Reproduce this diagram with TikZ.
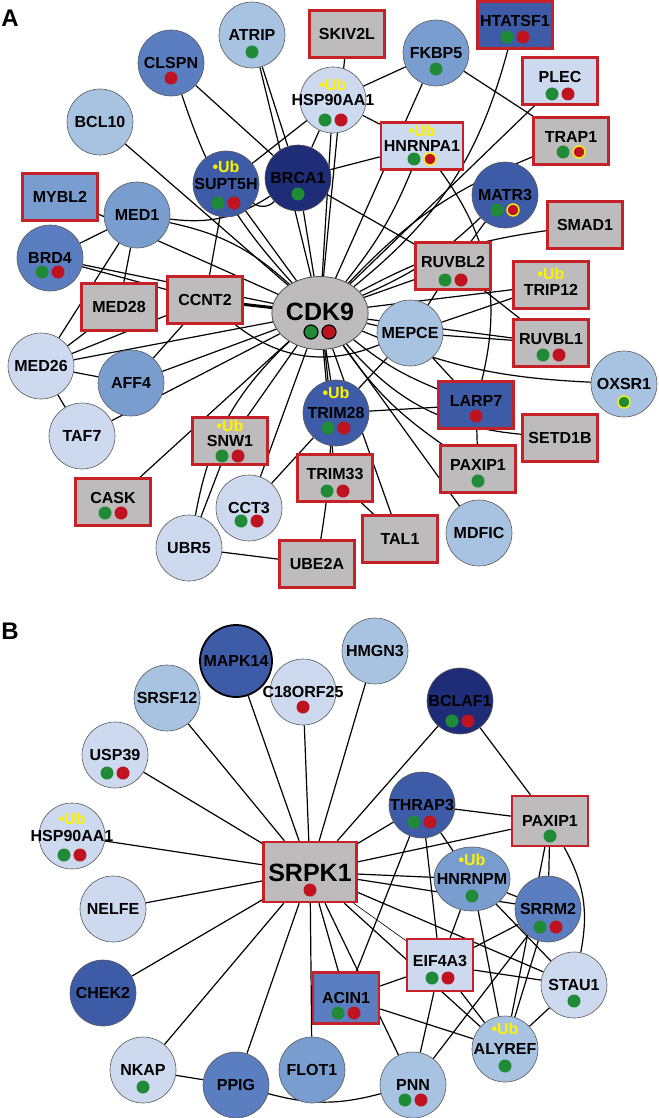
\documentclass[tikz,border=0pt]{standalone}
\usepackage{fontspec}
\setmainfont{Liberation Sans}
\usetikzlibrary{shapes.geometric,backgrounds}

\definecolor{cPale}{HTML}{CCD9EE}
\definecolor{cLight}{HTML}{A8C2E1}
\definecolor{cMid}{HTML}{7A9DD0}
\definecolor{cDeep}{HTML}{5A7EBF}
\definecolor{cDark}{HTML}{3D5BA7}
\definecolor{cNavy}{HTML}{1F2D78}
\definecolor{cGrey}{HTML}{BDBBBC}
\definecolor{cFrame}{HTML}{C62129}
\definecolor{cGreen}{HTML}{1F8B37}
\definecolor{cRed}{HTML}{BF131F}
\definecolor{cUb}{HTML}{FFF200}

\tikzset{
  prot/.style={circle,draw=black!65,line width=.6pt,minimum size=66pt,inner sep=0pt,
    font=\fontsize{16}{18}\selectfont\bfseries,text height=11.5pt,text depth=0pt},
  kin/.style={rectangle,draw=cFrame,line width=2.4pt,minimum width=75pt,minimum height=47pt,
    inner sep=0pt,font=\fontsize{16}{18}\selectfont\bfseries,text height=11.5pt,text depth=0pt},
  raised/.style={text depth=8pt},
  ubmark/.style={text=cUb,inner sep=0pt,font=\fontsize{16}{18}\selectfont\bfseries},
  panel/.style={inner sep=0pt,font=\fontsize{24}{26}\selectfont\bfseries},
  link/.style={every edge/.append style={line width=1.2pt}}
}
% dots: green / red, optional yellow ring
\newcommand\dotg[3]{\fill[cGreen] ([shift={(#2,#3)}]#1.center) circle (6.5);}
\newcommand\dotr[3]{\fill[cRed] ([shift={(#2,#3)}]#1.center) circle (6.5);}
\newcommand\dotgy[3]{\filldraw[fill=cGreen,draw=cUb,line width=1.4pt] ([shift={(#2,#3)}]#1.center) circle (6);}
\newcommand\dotry[3]{\filldraw[fill=cRed,draw=cUb,line width=1.4pt] ([shift={(#2,#3)}]#1.center) circle (6);}
\newcommand\dotpair[2]{\dotg{#1}{-8}{#2}\dotr{#1}{8}{#2}}
\newcommand\ubtag[2]{\node[ubmark] (#1-ub) at ([shift={(0,#2)}]#1.center) {•Ub};}
\newcommand\fitin[1]{\makebox[0pt]{#1}}

\begin{document}
\begin{tikzpicture}[x=1pt,y=-1pt]
\useasboundingbox (0,0) rectangle (658,1118);

% ---- panel A
\node[panel] (labA) at (10,18) {A};
\node[prot,fill=cLight] (atrip) at (252,35) {ATRIP};
\node[prot,fill=cDeep] (clspn) at (171,63) {CLSPN};
\node[prot,fill=cLight] (bcl10) at (100,122) {BCL10};
\node[prot,fill=cPale] (hspA) at (333,100) {\fitin{HSP90AA1}};
\node[prot,fill=cDark] (supt) at (226,184) {SUPT5H};
\node[prot,fill=cNavy] (brca) at (298,178) {BRCA1};
\node[prot,fill=cMid] (med1) at (137,215) {MED1};
\node[prot,fill=cDeep] (brd4) at (50,258) {BRD4};
\node[kin,fill=cMid] (mybl) at (60,197) {MYBL2};
\node[kin,fill=cGrey] (skiv) at (347,34) {SKIV2L};
\node[prot,fill=cMid] (fkbp) at (436,53) {FKBP5};
\node[kin,fill=cDark,raised] (htat) at (515,25) {HTATSF1};
\node[kin,fill=cPale,raised] (plec) at (560,81) {PLEC};
\node[kin,fill=cPale,minimum width=82pt] (hnrA) at (422,146) {HNRNPA1};
\node[kin,fill=cGrey,raised] (trap) at (571,141) {TRAP1};
\node[prot,fill=cDark] (matr) at (505,195) {MATR3};
\node[kin,fill=cGrey] (smad) at (585,225) {SMAD1};
\node[kin,fill=cGrey,raised] (ruv2) at (453,266) {RUVBL2};
\node[kin,fill=cGrey,text height=20pt] (trip) at (551,285) {TRIP12};
\node[kin,fill=cGrey,raised] (ruv1) at (551,343) {RUVBL1};
\node[prot,fill=cLight] (mepce) at (410,333) {MEPCE};
\node[prot,fill=cLight] (oxsr) at (624,384) {OXSR1};
\node[kin,fill=cDark,raised] (larp) at (476,405) {LARP7};
\node[kin,fill=cGrey] (setd) at (560,438) {SETD1B};
\node[kin,fill=cGrey,raised] (paxA) at (478,469) {PAXIP1};
\node[prot,fill=cLight] (mdfic) at (479,533) {MDFIC};
\node[kin,fill=cGrey] (tal1) at (400,539) {TAL1};
\node[kin,fill=cGrey,raised] (trim33) at (335,478) {TRIM33};
\node[kin,fill=cGrey] (ube2a) at (317,564) {UBE2A};
\node[prot,fill=cDark] (trim28) at (336,413) {TRIM28};
\node[prot,fill=cPale] (cct3) at (249,508) {CCT3};
\node[prot,fill=cPale] (ubr5) at (189,548) {UBR5};
\node[kin,fill=cGrey] (snw1) at (230,441) {SNW1};
\node[kin,fill=cGrey,raised] (cask) at (113,502) {CASK};
\node[prot,fill=cPale] (taf7) at (82,436) {TAF7};
\node[prot,fill=cPale] (med26) at (41,366) {MED26};
\node[prot,fill=cMid] (aff4) at (131,383) {AFF4};
\node[kin,fill=cGrey] (med28) at (119,307) {MED28};
\node[kin,fill=cGrey] (ccnt2) at (205,300) {CCNT2};
\node[ellipse,draw=black!70,line width=.8pt,fill=cGrey,minimum width=93pt,minimum height=73pt,
  inner sep=0pt,font=\fontsize{25}{28}\selectfont\bfseries,text height=18pt,text depth=4pt] (cdk9) at (320,313) {CDK9};

% ---- panel B
\node[panel] (labB) at (10,631) {B};
\node[prot,fill=cDark,draw=black,line width=1.8pt,minimum size=72pt] (mapk14) at (236,661) {MAPK14};
\node[prot,fill=cPale] (c18) at (303,692) {\fitin{C18ORF25}};
\node[prot,fill=cLight] (srsf12) at (167,698) {SRSF12};
\node[prot,fill=cPale] (usp39) at (115,755) {USP39};
\node[prot,fill=cPale] (hspB) at (72,836) {\fitin{HSP90AA1}};
\node[prot,fill=cLight] (hmgn3) at (375,651) {HMGN3};
\node[prot,fill=cNavy] (bclaf) at (460,701) {BCLAF1};
\node[prot,fill=cDark] (thrap) at (422,805) {THRAP3};
\node[kin,fill=cGrey,minimum width=76pt,minimum height=50pt] (paxB) at (550,821) {PAXIP1};
\node[kin,fill=cGrey,minimum width=93pt,minimum height=60pt,
  font=\fontsize{25}{28}\selectfont\bfseries,text height=18pt] (srpk) at (310,872) {SRPK1};
\node[prot,fill=cPale] (nelfe) at (113,909) {NELFE};
\node[prot,fill=cDark] (chek2) at (103,993) {CHEK2};
\node[prot,fill=cPale] (nkap) at (143,1070) {NKAP};
\node[prot,fill=cDeep] (ppig) at (236,1085) {PPIG};
\node[prot,fill=cMid] (flot1) at (312,1070) {FLOT1};
\node[prot,fill=cLight] (pnn) at (413,1085) {PNN};
\node[kin,fill=cDeep,minimum width=66pt,minimum height=51pt] (acin1) at (346,998) {ACIN1};
\node[kin,fill=cPale,raised,minimum width=66pt,minimum height=52pt] (eif4a3) at (440,965) {EIF4A3};
\node[prot,ellipse,fill=cMid,minimum width=76pt,minimum height=64pt] (hnrm) at (472,879) {\fitin{HNRNPM}};
\node[prot,fill=cDeep] (srrm2) at (548,909) {SRRM2};
\node[prot,fill=cPale] (stau1) at (574,985) {STAU1};
\node[prot,fill=cLight] (alyref) at (505,1049) {ALYREF};

% ---- links
\begin{scope}[on background layer,link]
\path (cdk9) edge (atrip) edge[bend left=12] (clspn) edge (bcl10) edge (hspA) edge (supt) edge (brca)
  edge[bend right=15] (med1) edge (brd4) edge (mybl) edge (skiv) edge (fkbp) edge[bend right=18] (htat)
  edge (plec) edge[bend right=8] (hnrA) edge[bend left=12] (trap) edge[bend right=10] (matr)
  edge[bend left=10] (smad) edge (ruv2) edge (trip) edge (ruv1) edge (mepce) edge[bend right=10] (oxsr)
  edge[bend right=8] (larp) edge[bend right=22] (setd) edge[bend right=10] (paxA) edge (trim28)
  edge (mdfic) edge (tal1) edge (trim33) edge[bend left=8] (ube2a) edge (cct3) edge (snw1)
  edge[bend right=18] (ubr5) edge (cask) edge (taf7) edge (aff4) edge (med26);
\draw[line width=3pt] (cdk9) -- (ccnt2);
\path (atrip) edge (brca)
  (clspn) edge (brca)
  (hspA) edge (supt) edge (brca) edge (hnrA) edge (fkbp)
  (fkbp) edge (trap)
  (supt) edge[bend right=40] (brca) edge (ccnt2)
  (med1) edge (brd4) edge (med28) edge (med26) edge[bend right=20] (brca)
  (brd4) edge (ccnt2)
  (med26) edge (med28) edge (ccnt2) edge (aff4) edge (taf7)
  (aff4) edge (ccnt2)
  (snw1) edge (ubr5)
  (ubr5) edge (ube2a)
  (cct3) edge (trim28)
  (trim33) edge (tal1)
  (trim28) edge (larp) edge (mepce)
  (larp) edge (paxA) edge (mepce) edge[bend right=25] (hnrA)
  (mepce) edge (ruv1) edge (ruv2) edge (trip)
  (ruv2) edge (ruv1) edge (matr)
  (brca) edge (ruv2) edge (hnrA)
  (ccnt2) edge[bend right=30] (mepce);
\path (srpk) edge (hspB) edge (usp39) edge (srsf12) edge (mapk14) edge (c18) edge (hmgn3)
  edge (bclaf) edge (thrap) edge (paxB) edge (hnrm) edge (srrm2) edge (stau1)
  edge[line width=.6pt] (eif4a3) edge (alyref) edge (pnn) edge (acin1) edge (flot1)
  edge (ppig) edge (nkap) edge (chek2) edge (nelfe);
\path (bclaf) edge (paxB)
  (thrap) edge (paxB) edge (acin1) edge (eif4a3) edge (hnrm)
  (paxB) edge (srrm2) edge (alyref) edge[bend left=20] (stau1)
  (hnrm) edge (srrm2) edge (eif4a3) edge (alyref) edge (stau1)
  (srrm2) edge (eif4a3) edge (alyref) edge (pnn)
  (eif4a3) edge (stau1) edge (acin1) edge (pnn) edge (alyref)
  (stau1) edge (alyref)
  (acin1) edge (alyref)
  (nkap) edge (ppig)
  (ppig) edge[bend right=15] (pnn);
\end{scope}

% ---- marks A
\dotg{atrip}{0}{17}
\dotr{clspn}{0}{15}
\ubtag{hspA}{-15} \dotpair{hspA}{20}
\ubtag{supt}{-17} \dotpair{supt}{19}
\dotg{brca}{0}{16}
\dotpair{brd4}{14}
\dotg{fkbp}{0}{16}
\dotpair{htat}{12}
\dotpair{plec}{13}
\ubtag{hnrA}{-15} \dotg{hnrA}{-8}{13} \dotry{hnrA}{8}{13}
\dotg{trap}{-8}{11} \dotry{trap}{8}{11}
\dotg{matr}{-8}{15} \dotry{matr}{8}{15}
\dotpair{ruv2}{14}
\ubtag{trip}{-11}
\dotpair{ruv1}{12}
\dotgy{oxsr}{0}{18}
\dotr{larp}{0}{11}
\dotg{paxA}{0}{12}
\ubtag{trim28}{-20} \dotpair{trim28}{15}
\dotpair{trim33}{13}
\ubtag{snw1}{-15} \dotpair{snw1}{15}
\dotpair{cct3}{13}
\dotpair{cask}{11}
\filldraw[fill=cGreen,draw=black,line width=1.2pt] ([shift={(-9,19)}]cdk9.center) circle (7);
\filldraw[fill=cRed,draw=black,line width=1.2pt] ([shift={(9,19)}]cdk9.center) circle (7);

% ---- marks B
\dotr{c18}{0}{15}
\dotpair{usp39}{18}
\ubtag{hspB}{-17} \dotpair{hspB}{19}
\dotpair{bclaf}{20}
\dotpair{thrap}{17}
\dotg{paxB}{0}{15}
\dotr{srpk}{0}{18}
\dotg{nkap}{0}{17}
\ubtag{hnrm}{-19} \dotg{hnrm}{0}{17}
\dotpair{srrm2}{18}
\dotpair{eif4a3}{13}
\dotpair{acin1}{15}
\dotg{stau1}{0}{16}
\ubtag{alyref}{-20} \dotg{alyref}{0}{17}
\dotpair{pnn}{15}
\end{tikzpicture}
\end{document}
